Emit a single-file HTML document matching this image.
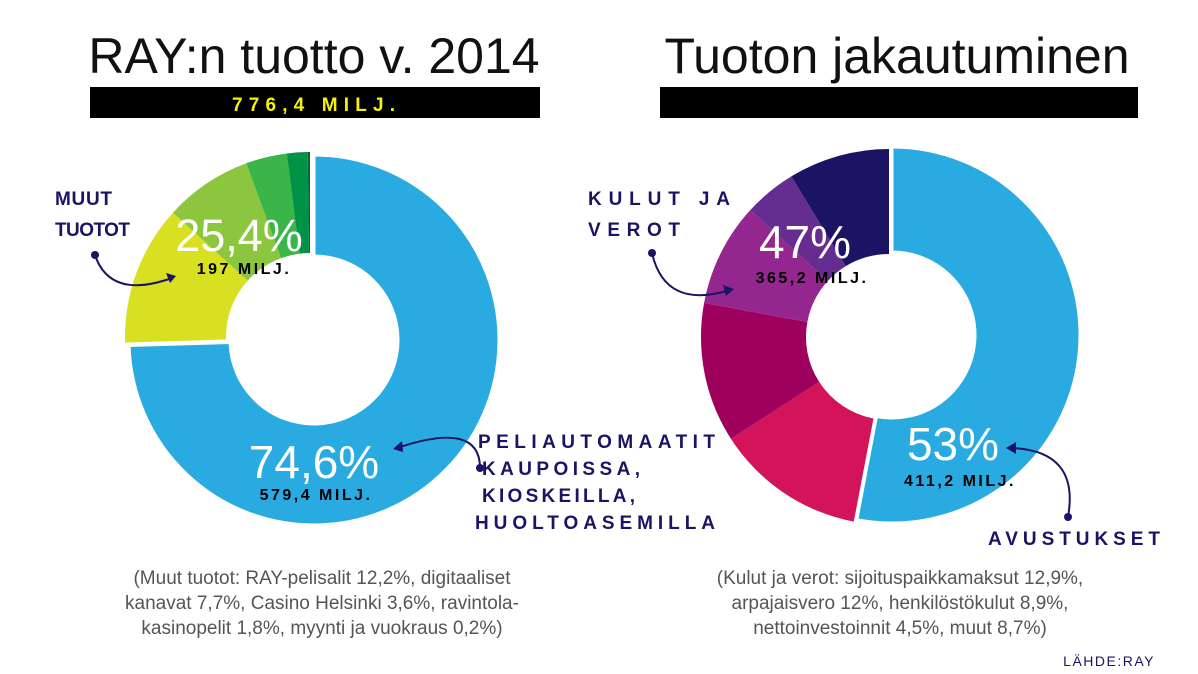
<!DOCTYPE html>
<html><head><meta charset="utf-8"><style>
body{margin:0;background:#fff;width:1198px;height:674px;overflow:hidden;font-family:"Liberation Sans",sans-serif}
svg{display:block}
</style></head><body>
<svg id="c" width="1198" height="674" viewBox="0 0 1198 674">
<text x="314" y="73" font-size="50" text-anchor="middle" fill="#111">RAY:n tuotto v. 2014</text>
<rect x="90" y="87" width="450" height="31" fill="#000"/>
<text x="232" y="111" font-size="19" font-weight="bold" fill="#f4f10a" textLength="163" lengthAdjust="spacing">776,4 MILJ.</text>
<text x="897" y="73" font-size="50" text-anchor="middle" fill="#111">Tuoton jakautuminen</text>
<rect x="660" y="87" width="478" height="31" fill="#000"/>
<g id="left"></g>
<g id="right"></g>
<g fill="#fff" text-anchor="middle">
<text x="239" y="251" font-size="45">25,4%</text>
<text x="314" y="478" font-size="46">74,6%</text>
<text x="805" y="258" font-size="46">47%</text>
<text x="953" y="460" font-size="46">53%</text>
</g>
<g fill="#000" font-weight="bold" font-size="16" letter-spacing="2.5" text-anchor="middle">
<text x="244" y="274">197 MILJ.</text>
<text x="316" y="500">579,4 MILJ.</text>
<text x="812" y="283">365,2 MILJ.</text>
<text x="960" y="486">411,2 MILJ.</text>
</g>
<g fill="#1b1464" font-weight="bold" font-size="19" lengthAdjust="spacingAndGlyphs">
<text x="55" y="205" textLength="57">MUUT</text>
<text x="55" y="236" textLength="75">TUOTOT</text>
<text x="588" y="205" textLength="142">KULUT JA</text>
<text x="588" y="236" textLength="92">VEROT</text>
<text x="478" y="448" textLength="237">PELIAUTOMAATIT</text>
<text x="482" y="475" textLength="158">KAUPOISSA,</text>
<text x="482" y="502" textLength="153">KIOSKEILLA,</text>
<text x="475" y="529" textLength="240">HUOLTOASEMILLA</text>
<text x="988" y="545" textLength="172">AVUSTUKSET</text>
</g>
<g stroke="#1b1464" stroke-width="2" fill="none">
<path d="M95,255 Q110,300 172,278"/>
<path d="M480,468 Q480,420 397,448"/>
<path d="M652,253 Q665,310 730,290"/>
<path d="M1068,517 Q1080,450 1010,448"/>
</g>
<g fill="#1b1464">
<circle cx="95" cy="255" r="4"/><circle cx="480" cy="468" r="4"/><circle cx="652" cy="253" r="4"/><circle cx="1068" cy="517" r="4"/>
<path d="M176,276 L166,273 L170,283Z"/><path d="M393,449 L402,441 L403,452Z"/><path d="M734,289 L723,285 L726,296Z"/><path d="M1006,448 L1016,442 L1016,454Z"/>
</g>
<g fill="#555" font-size="19" text-anchor="middle">
<text x="322" y="584">(Muut tuotot: RAY-pelisalit 12,2%, digitaaliset</text>
<text x="322" y="609">kanavat 7,7%, Casino Helsinki 3,6%, ravintola-</text>
<text x="322" y="634">kasinopelit 1,8%, myynti ja vuokraus 0,2%)</text>
<text x="900" y="584">(Kulut ja verot: sijoituspaikkamaksut 12,9%,</text>
<text x="900" y="609">arpajaisvero 12%, henkilöstökulut 8,9%,</text>
<text x="900" y="634">nettoinvestoinnit 4,5%, muut 8,7%)</text>
</g>
<text x="1155" y="666" font-size="14" fill="#1b1464" text-anchor="end" letter-spacing="1.5">LÄHDE:RAY</text>
</svg>
<script>
const leftCats=["Peliautomaatit","RAY-pelisalit","Digitaaliset kanavat","Casino Helsinki","Kasinopelit","Myynti ja vuokraus"];
const leftVals=[74.6,12.2,7.7,3.6,1.8,0.2];
const leftColors=["#29abe2","#d9e021","#8cc63f","#39b54a","#009245","#006837"];
const rightCats=["Avustukset","Sijoituspaikkamaksut","Arpajaisvero","Henkilöstökulut","Nettoinvestoinnit","Muut"];
const rightVals=[53,12.9,12,8.9,4.5,8.7];
const rightColors=["#29abe2","#d4145a","#9e005d","#93278f","#662d91","#1b1464"];
function donut(gid,cats,vals,cols,cx,cy,ro,ri,off){
  const g=document.getElementById(gid);
  const tot=vals.reduce((a,b)=>a+b,0);
  let a0=0;
  vals.forEach((v,i)=>{
    const a1=a0+v/tot*2*Math.PI;
    const dx=i===0?0:off[0],dy=i===0?0:off[1];
    const p=(r,a)=>[cx+dx+r*Math.sin(a),cy+dy-r*Math.cos(a)];
    const lg=(a1-a0)>Math.PI?1:0;
    const [x1,y1]=p(ro,a0),[x2,y2]=p(ro,a1),[x3,y3]=p(ri,a1),[x4,y4]=p(ri,a0);
    const path=document.createElementNS("http://www.w3.org/2000/svg","path");
    path.setAttribute("d",`M${x1},${y1}A${ro},${ro} 0 ${lg} 1 ${x2},${y2}L${x3},${y3}A${ri},${ri} 0 ${lg} 0 ${x4},${y4}Z`);
    path.setAttribute("fill",cols[i]);
    path.setAttribute("stroke",i===0?"#fff":"none");
    path.setAttribute("stroke-width","3");
    
    
    g.appendChild(path);
    a0=a1;
  });
}
donut("left",leftCats,leftVals,leftColors,314,340,185,84,[-4,-3]);
donut("right",rightCats,rightVals,rightColors,892,335,188,83,[-3,2]);
</script>
</body></html>
